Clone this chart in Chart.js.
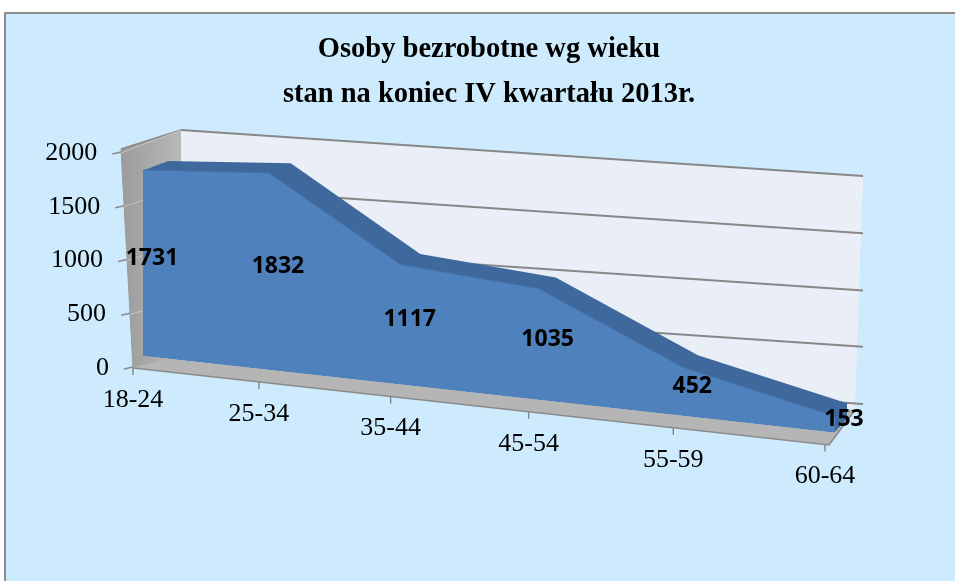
<!DOCTYPE html>
<html lang="pl">
<head>
<meta charset="utf-8">
<title>Osoby bezrobotne wg wieku</title>
<script src="https://cdn.jsdelivr.net/npm/chart.js@4.4.1/dist/chart.umd.min.js"></script>
<style>
    html, body { margin: 0; padding: 0; background: #ffffff; overflow: hidden; }
    #frame {
        position: absolute; left: 4px; top: 12px; width: 970px; height: 600px;
        background: #cdebfd; border-left: 2px solid #8c8c8c; border-top: 2px solid #8c8c8c;
    }
    #barChart { position: absolute; left: 0; top: 0; }
</style>
</head>
<body>
<div id="frame"></div>
<canvas id="barChart" width="955" height="581"></canvas>
<script>
/**
 * Dane wykresu: osoby bezrobotne wg wieku, stan na koniec IV kwartału 2013r.
 */
const categories = ['18-24', '25-34', '35-44', '45-54', '55-59', '60-64'];
const unemployed = [1731, 1832, 1117, 1035, 452, 153];
const yTicks = [0, 500, 1000, 1500, 2000];
const titleLines = ['Osoby bezrobotne wg wieku', 'stan na koniec IV kwartału 2013r.'];

// Parametry "widoku 3D" (tylko wygląd, nie dane).
const view = {
    slope: 0.111,               // nachylenie podstawy frontu
    lift: -12,                  // przesunięcie frontu względem osi Y
    depthLeft: [24, -9],        // głębokość bryły po lewej
    depthRight: [12, -13],      // głębokość bryły po prawej
    depthSteps: [1, 0.92, 0.84, 0.76, 0.68, 0.6, 0.52, 0.44, 0.36, 0.28, 0.2, 0.12, 0.06],
    persp: 0.89,                // perspektywa w poziomie
    wallStep: 57                // odstęp linii siatki na tylnej ścianie
};

const colors = {
    front: '#4f81bd',
    frontEdge: '#4474ab',
    band: '#3f699d',
    wall: '#e9eef7',
    side: '#a6a6a6',
    floor: '#b5b5b5',
    edge: '#8a8a8a',
    grid: '#878787'
};

Chart.defaults.font.family = '"Liberation Serif", "Times New Roman", serif';
Chart.defaults.color = '#000000';

function projX(area, x) {
    const w = area.right - area.left;
    const u = (x - area.left) / w;
    const k = view.persp;
    return area.left + w * (k * u / (1 + (k - 1) * u));
}

function floorY(area, X) {
    const x0 = area.left - 10, x1 = area.right - 6;
    return area.bottom + (X - x0) * 77 / (x1 - x0);
}

function sideEdgeX(area, y) {
    return area.left - 10 - 12 * (area.bottom - y) / (area.bottom - area.top + 4);
}

// Macierz dla frontu (t = 0) i kolejnych warstw głębokości.
function depthMatrix(area, t) {
    const L = area.left, W = area.right - area.left;
    const dxL = view.depthLeft[0] * t, dyL = view.depthLeft[1] * t;
    const dxR = view.depthRight[0] * t, dyR = view.depthRight[1] * t;
    const gx = (dxR - dxL) / W, gy = (dyR - dyL) / W;
    return [1 + gx, view.slope + gy, 0, 1, dxL - gx * L, view.lift + dyL - view.slope * L - gy * L];
}

// Macierz tylnej ściany (siatka osi Y).
function wallMatrix(area) {
    const L = area.left, R = area.right, T = area.top, B = area.bottom;
    const x0 = L + 38, y0 = T - 23, x1 = R + 28, y1 = T + 23;
    const sx = (x1 - x0) / (R - L);
    const k = (y1 - y0) / (x1 - x0);
    const sy = view.wallStep * (yTicks.length - 1) / (B - T);
    return [sx, k * sx, 0, sy, x0 - sx * L, y0 - sy * T - k * sx * L];
}

function applyMatrix(ctx, m, r) {
    ctx.setTransform(m[0] * r, m[1] * r, m[2] * r, m[3] * r, m[4] * r, m[5] * r);
}

function mapPoint(m, x, y) {
    return [m[0] * x + m[2] * y + m[4], m[1] * x + m[3] * y + m[5]];
}

const view3d = {
    id: 'view3d',
    afterDatasetsUpdate(chart) {
        const area = chart.chartArea;
        chart.getSortedVisibleDatasetMetas().forEach(meta => {
            meta.data.forEach(pt => { pt.x = projX(area, pt.x); });
        });
    },
    beforeDraw(chart) {
        const ctx = chart.ctx, area = chart.chartArea, r = chart.currentDevicePixelRatio;
        const ys = chart.scales.y, xs = chart.scales.x;
        const wm = wallMatrix(area);

        // siatka osi Y rysowana na tylnej ścianie
        if (!ys._wallPatched) {
            const drawGrid = ys.drawGrid;
            ys.drawGrid = function (chartArea) {
                ctx.save();
                applyMatrix(ctx, wallMatrix(chartArea), r);
                drawGrid.call(this, chartArea);
                ctx.restore();
            };
            ys._wallPatched = true;
        }

        // etykiety osi X wzdłuż skośnej podłogi
        const xItems = xs.getLabelItems(area);
        if (!xItems._moved) {
            xItems.forEach(item => {
                const X = projX(area, item.options.translation[0]) - 10;
                item.options.translation = [X, floorY(area, X) + 32];
                item.options.textBaseline = 'middle';
                item.textOffset = 0;
            });
            xItems._moved = true;
        }
        const yItems = ys.getLabelItems(area);
        if (!yItems._moved) {
            yItems.forEach(item => {
                item.options.translation[0] = sideEdgeX(area, item.options.translation[1]) - 24;
            });
            yItems._moved = true;
        }

        const B = area.bottom;
        const wTL = mapPoint(wm, area.left, area.top);
        const wTR = mapPoint(wm, area.right, area.top);
        const wBL = mapPoint(wm, area.left, B);
        const wBR = mapPoint(wm, area.right, B);

        ctx.save();
        // tylna ściana
        ctx.fillStyle = colors.wall;
        ctx.beginPath();
        ctx.moveTo(wTL[0], wTL[1]); ctx.lineTo(wTR[0], wTR[1]);
        ctx.lineTo(wBR[0] - 8, wBR[1] + 6); ctx.lineTo(wBL[0], wBL[1]);
        ctx.closePath(); ctx.fill();

        // boczna ściana
        const fTop = [sideEdgeX(area, area.top - 4), area.top - 4];
        const fBot = [area.left - 10, B];
        const g = ctx.createLinearGradient(fTop[0], 0, wTL[0], 0);
        g.addColorStop(0, '#9b9b9b');
        g.addColorStop(1, '#b9b9b9');
        ctx.fillStyle = g;
        ctx.beginPath();
        ctx.moveTo(fTop[0], fTop[1]); ctx.lineTo(wTL[0], wTL[1]);
        ctx.lineTo(wBL[0], wBL[1]); ctx.lineTo(fBot[0], fBot[1]);
        ctx.closePath(); ctx.fill();
        ctx.strokeStyle = colors.edge; ctx.lineWidth = 1.5;
        ctx.beginPath(); ctx.moveTo(fTop[0], fTop[1]); ctx.lineTo(wTL[0], wTL[1]); ctx.stroke();
        ctx.strokeStyle = '#9a9a9a'; ctx.lineWidth = 1;
        ctx.beginPath(); ctx.moveTo(fTop[0], fTop[1]); ctx.lineTo(fBot[0], fBot[1]); ctx.stroke();

        // linie siatki na bocznej ścianie i znaczniki osi Y
        yTicks.forEach(v => {
            const y = ys.getPixelForValue(v);
            const ex = sideEdgeX(area, y);
            const w = mapPoint(wm, area.left, y);
            ctx.strokeStyle = '#c3c3c3'; ctx.lineWidth = 1;
            ctx.beginPath(); ctx.moveTo(ex, y); ctx.lineTo(w[0], w[1]); ctx.stroke();
            ctx.strokeStyle = colors.edge; ctx.lineWidth = 1.5;
            ctx.beginPath(); ctx.moveTo(ex - 9, y + 1); ctx.lineTo(ex, y - 1); ctx.stroke();
        });

        // podłoga
        const pL = [area.left - 10, B];
        const pR = [area.right - 6, floorY(area, area.right - 6)];
        ctx.fillStyle = colors.floor;
        ctx.beginPath();
        ctx.moveTo(pL[0], pL[1]); ctx.lineTo(wBL[0], wBL[1]);
        ctx.lineTo(wBR[0] - 8, wBR[1] + 6); ctx.lineTo(pR[0], pR[1]);
        ctx.closePath(); ctx.fill();
        ctx.strokeStyle = colors.edge; ctx.lineWidth = 1.5;
        ctx.beginPath();
        ctx.moveTo(pL[0], pL[1]); ctx.lineTo(pR[0], pR[1]); ctx.lineTo(wBR[0] - 8, wBR[1] + 6);
        ctx.stroke();

        // znaczniki osi X
        categories.forEach((c, i) => {
            const X = projX(area, xs.getPixelForValue(i)) - 10;
            const y = floorY(area, X);
            ctx.beginPath(); ctx.moveTo(X, y); ctx.lineTo(X, y + 7); ctx.stroke();
        });
        ctx.restore();
    },
    beforeDatasetsDraw(chart) {
        const metas = chart.getSortedVisibleDatasetMetas();
        const first = metas[metas.length - 1];
        chart.ctx.save();
        applyMatrix(chart.ctx, depthMatrix(chart.chartArea, chart.data.datasets[first.index].depth), chart.currentDevicePixelRatio);
    },
    afterDatasetDraw(chart, args) {
        const metas = chart.getSortedVisibleDatasetMetas();
        const p = metas.indexOf(args.meta);
        if (p > 0) {
            const next = metas[p - 1];
            applyMatrix(chart.ctx, depthMatrix(chart.chartArea, chart.data.datasets[next.index].depth), chart.currentDevicePixelRatio);
        }
    },
    afterDatasetsDraw(chart) {
        const ctx = chart.ctx, area = chart.chartArea;
        ctx.restore();
        const meta = chart.getDatasetMeta(0);
        const base = chart.scales.y.getPixelForValue(0);
        ctx.save();
        ctx.font = 'bold 23px "Open Sans", sans-serif';
        ctx.fillStyle = '#000000';
        ctx.textAlign = 'center';
        ctx.textBaseline = 'middle';
        meta.data.forEach((pt, i) => {
            const shift = view.slope * (pt.x - area.left) + view.lift;
            const mid = (pt.y + base) / 2 + shift;
            ctx.fillText(String(unemployed[i]), pt.x + 9, mid - 5);
        });
        ctx.restore();
    }
};

function initializeChart() {
    const canvas = document.getElementById('barChart');
    if (!canvas) return;

    const front = {
        data: unemployed, fill: 'origin', depth: 0,
        backgroundColor: colors.front, borderColor: colors.frontEdge, borderWidth: 1,
        pointRadius: 0, tension: 0, clip: false
    };
    const layers = view.depthSteps.map(t => ({
        data: unemployed, fill: 'origin', depth: t,
        backgroundColor: colors.band, borderWidth: 0,
        pointRadius: 0, tension: 0, clip: false
    }));

    new Chart(canvas.getContext('2d'), {
        type: 'line',
        data: { labels: categories, datasets: [front, ...layers] },
        options: {
            responsive: false,
            animation: false,
            events: [],
            layout: { padding: { left: 0, right: 120, top: 0, bottom: 13 } },
            plugins: {
                legend: { display: false },
                tooltip: { enabled: false },
                title: {
                    display: true,
                    text: titleLines,
                    fullSize: false,
                    color: '#000000',
                    font: { family: '"Liberation Serif", serif', size: 28.5, weight: 'bold', lineHeight: 1.58 },
                    padding: { top: 27, bottom: 36 }
                }
            },
            scales: {
                x: {
                    offset: false,
                    grid: { display: false },
                    border: { display: false },
                    ticks: { font: { size: 26 }, color: '#000000', maxRotation: 0, autoSkip: false },
                    afterFit: s => { s.height = 200; }
                },
                y: {
                    min: yTicks[0],
                    max: yTicks[yTicks.length - 1],
                    ticks: {
                        stepSize: yTicks[1] - yTicks[0],
                        font: { size: 26 },
                        color: '#000000',
                        callback: v => String(v)
                    },
                    grid: { color: colors.grid, lineWidth: 2, drawTicks: false },
                    border: { display: false },
                    afterFit: s => { s.width = 143; }
                }
            }
        },
        plugins: [view3d]
    });
}

document.addEventListener('DOMContentLoaded', initializeChart);
</script>
</body>
</html>
